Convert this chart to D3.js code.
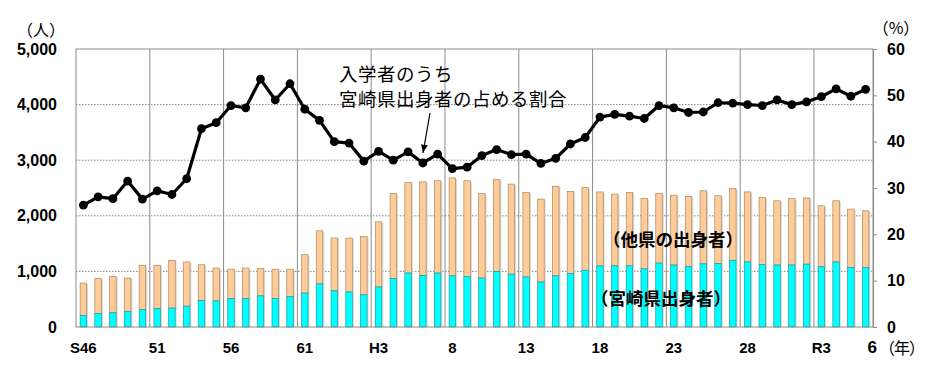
<!DOCTYPE html>
<html><head><meta charset="utf-8">
<script src="https://cdn.jsdelivr.net/npm/d3@7"></script>
<style>
html,body{margin:0;padding:0;background:#fff;}
svg{display:block;}
.num{font-family:"Liberation Sans",Arial,sans-serif;font-weight:bold;fill:#000;}
.jp{font-family:"Noto Sans CJK JP",sans-serif;fill:#000;}
</style></head>
<body>
<svg id="chart" width="932" height="367"></svg>
<script>
// ---- data ----
const categories = ["S46","S47","S48","S49","S50","S51","S52","S53","S54","S55","S56","S57","S58","S59","S60","S61","S62","S63",
  "H1","H2","H3","H4","H5","H6","H7","H8","H9","H10","H11","H12","H13","H14","H15","H16","H17","H18","H19","H20",
  "H21","H22","H23","H24","H25","H26","H27","H28","H29","H30","R1","R2","R3","R4","R5","R6"];
const miyazaki = [210,245,255,275,310,330,340,375,480,470,510,510,560,510,545,610,775,650,
  630,580,720,870,970,925,970,920,905,880,1000,950,900,810,920,960,1020,1100,1100,1100,
  1045,1150,1115,1085,1135,1140,1200,1170,1120,1115,1115,1130,1085,1170,1070,1070];
const others = [580,625,655,605,800,780,860,795,640,590,530,550,490,530,495,690,955,950,
  970,1050,1170,1530,1630,1685,1660,1760,1725,1520,1650,1620,1520,1490,1610,1480,1490,1330,1290,1320,
  1265,1250,1255,1265,1315,1220,1290,1260,1210,1155,1195,1190,1095,1100,1050,1020];
const ratio = [26.3,28.1,27.7,31.5,27.6,29.4,28.6,32.0,42.8,44.1,47.8,47.3,53.5,49.0,52.5,47.0,44.6,40.0,
  39.7,35.8,37.9,36.0,37.8,35.4,37.3,34.2,34.5,37.0,38.3,37.2,37.3,35.3,36.4,39.5,40.9,45.3,45.9,45.5,
  45.0,47.8,47.3,46.3,46.4,48.4,48.3,48.0,47.8,49.0,48.0,48.6,49.7,51.4,49.8,51.3];
const tickIndex = [0,5,10,15,20,25,30,35,40,45,50,53];
const tickLabels = ["S46","51","56","61","H3","8","13","18","23","28","R3","6"];
const leftTicks = [0,1000,2000,3000,4000,5000];
const rightTicks = [0,10,20,30,40,50,60];
const gridYears = [5,10,15,20,25,30,35,40,45,50];

// ---- layout ----
const L = 76, R = 873, T = 49, B = 327;
const svg = d3.select("#chart");
const idx = d3.range(categories.length);
const x = d3.scaleBand().domain(idx).range([L, R]).paddingInner(0.56).paddingOuter(0.28);
const yL = d3.scaleLinear().domain([0, 5000]).range([B, T]);
const yR = d3.scaleLinear().domain([0, 60]).range([B, T]);
const step = x.step(), bw = x.bandwidth();
const cx = i => x(i) + bw / 2;

// horizontal dotted grid
svg.append("g").selectAll("line").data(leftTicks.filter(v => v > 0 && v < 5000)).join("line")
  .attr("x1", L).attr("x2", R).attr("y1", d => yL(d)).attr("y2", d => yL(d))
  .attr("stroke", "#666").attr("stroke-width", 0.8).attr("stroke-dasharray", "1.5,1.5");
// vertical grid
svg.append("g").selectAll("line").data(gridYears).join("line")
  .attr("x1", d => cx(d) - step / 2).attr("x2", d => cx(d) - step / 2)
  .attr("y1", T).attr("y2", B).attr("stroke", "#8c8c8c").attr("stroke-width", 1);

// bars
const stack = idx.map(i => ({i, m: miyazaki[i], o: others[i]}));
const gb = svg.append("g");
gb.selectAll("rect.sh").data(stack).join("rect").attr("class", "sh")
  .attr("x", d => x(d.i) + 1.5).attr("width", bw)
  .attr("y", d => yL(d.m + d.o) + 1).attr("height", d => B - yL(d.m + d.o) - 1)
  .attr("fill", "#d8d8d8");
gb.selectAll("rect.o").data(stack).join("rect").attr("class", "o")
  .attr("x", d => x(d.i)).attr("width", bw)
  .attr("y", d => yL(d.m + d.o)).attr("height", d => yL(d.m) - yL(d.m + d.o))
  .attr("fill", "#FFCC99").attr("stroke", "#a88a60").attr("stroke-width", 0.7);
gb.selectAll("rect.m").data(stack).join("rect").attr("class", "m")
  .attr("x", d => x(d.i)).attr("width", bw)
  .attr("y", d => yL(d.m)).attr("height", d => B - yL(d.m))
  .attr("fill", "#00FFFF").attr("stroke", "#1a9a9a").attr("stroke-width", 0.7);

// frame
svg.append("rect").attr("x", L).attr("y", T).attr("width", R - L).attr("height", B - T)
  .attr("fill", "none").attr("stroke", "#8c8c8c").attr("stroke-width", 1);

// left axis
const axL = svg.append("g").attr("transform", `translate(${L},0)`)
  .call(d3.axisLeft(yL).tickValues(leftTicks).tickFormat(d3.format(",")).tickSize(0).tickPadding(19));
axL.select(".domain").remove();
axL.selectAll("text").attr("class", "num").style("font-size", "16px").attr("font-family", null);

// right axis
const axR = svg.append("g").attr("transform", `translate(${R},0)`)
  .call(d3.axisRight(yR).tickValues(rightTicks).tickSize(4).tickPadding(10));
axR.select(".domain").attr("stroke", "#8c8c8c");
axR.selectAll("line").attr("stroke", "#8c8c8c");
axR.selectAll("text").attr("class", "num").style("font-size", "16px").attr("font-family", null);

// x labels
svg.append("g").selectAll("text").data(tickIndex).join("text")
  .attr("class", "num")
  .attr("x", (d, k) => cx(d) + (k === tickIndex.length - 1 ? 6.5 : 0))
  .attr("y", 353)
  .attr("text-anchor", "middle")
  .style("font-size", (d, k) => k === tickIndex.length - 1 ? "17px" : "15px")
  .text((d, k) => tickLabels[k]);

// line
const line = d3.line().x((d, i) => cx(i)).y(d => yR(d));
svg.append("path").datum(ratio).attr("d", line).attr("fill", "none")
  .attr("stroke", "#000").attr("stroke-width", 3.2).attr("stroke-linejoin", "round");
svg.append("g").selectAll("circle").data(ratio).join("circle")
  .attr("cx", (d, i) => cx(i)).attr("cy", d => yR(d)).attr("r", 4.4).attr("fill", "#000");

// unit labels
svg.append("text").attr("class", "jp").attr("x", 41).attr("y", 36).attr("text-anchor", "middle")
  .style("font-size", "16px").text("（人）");
svg.append("text").attr("class", "jp").attr("x", 896).attr("y", 34).attr("text-anchor", "middle")
  .style("font-size", "16px").text("（%）");
svg.append("text").attr("class", "jp").attr("x", 879).attr("y", 354)
  .style("font-size", "16px").style("letter-spacing", "-1px").text("（年）");

// annotation
svg.append("text").attr("class", "jp").attr("x", 339).attr("y", 81).style("font-size", "18.5px").style("letter-spacing", "0.5px").text("入学者のうち");
svg.append("text").attr("class", "jp").attr("x", 339).attr("y", 106).style("font-size", "18.5px").style("letter-spacing", "0.5px").text("宮崎県出身者の占める割合");
svg.append("defs").append("marker").attr("id", "ah").attr("viewBox", "0 0 10 10")
  .attr("refX", 10).attr("refY", 5).attr("markerWidth", 7).attr("markerHeight", 7).attr("orient", "auto")
  .append("path").attr("d", "M0,1 L10,5 L0,9 Z").attr("fill", "#000");
svg.append("line").attr("x1", 430).attr("y1", 113).attr("x2", 423).attr("y2", 153)
  .attr("stroke", "#000").attr("stroke-width", 1.2).attr("marker-end", "url(#ah)");

// series labels
svg.append("text").attr("class", "jp").attr("x", 603).attr("y", 246).style("font-size", "17.5px").style("font-weight", "bold").text("（他県の出身者）");
svg.append("text").attr("class", "jp").attr("x", 591).attr("y", 305).style("font-size", "17.5px").style("font-weight", "bold").text("（宮崎県出身者）");
</script>
</body></html>
